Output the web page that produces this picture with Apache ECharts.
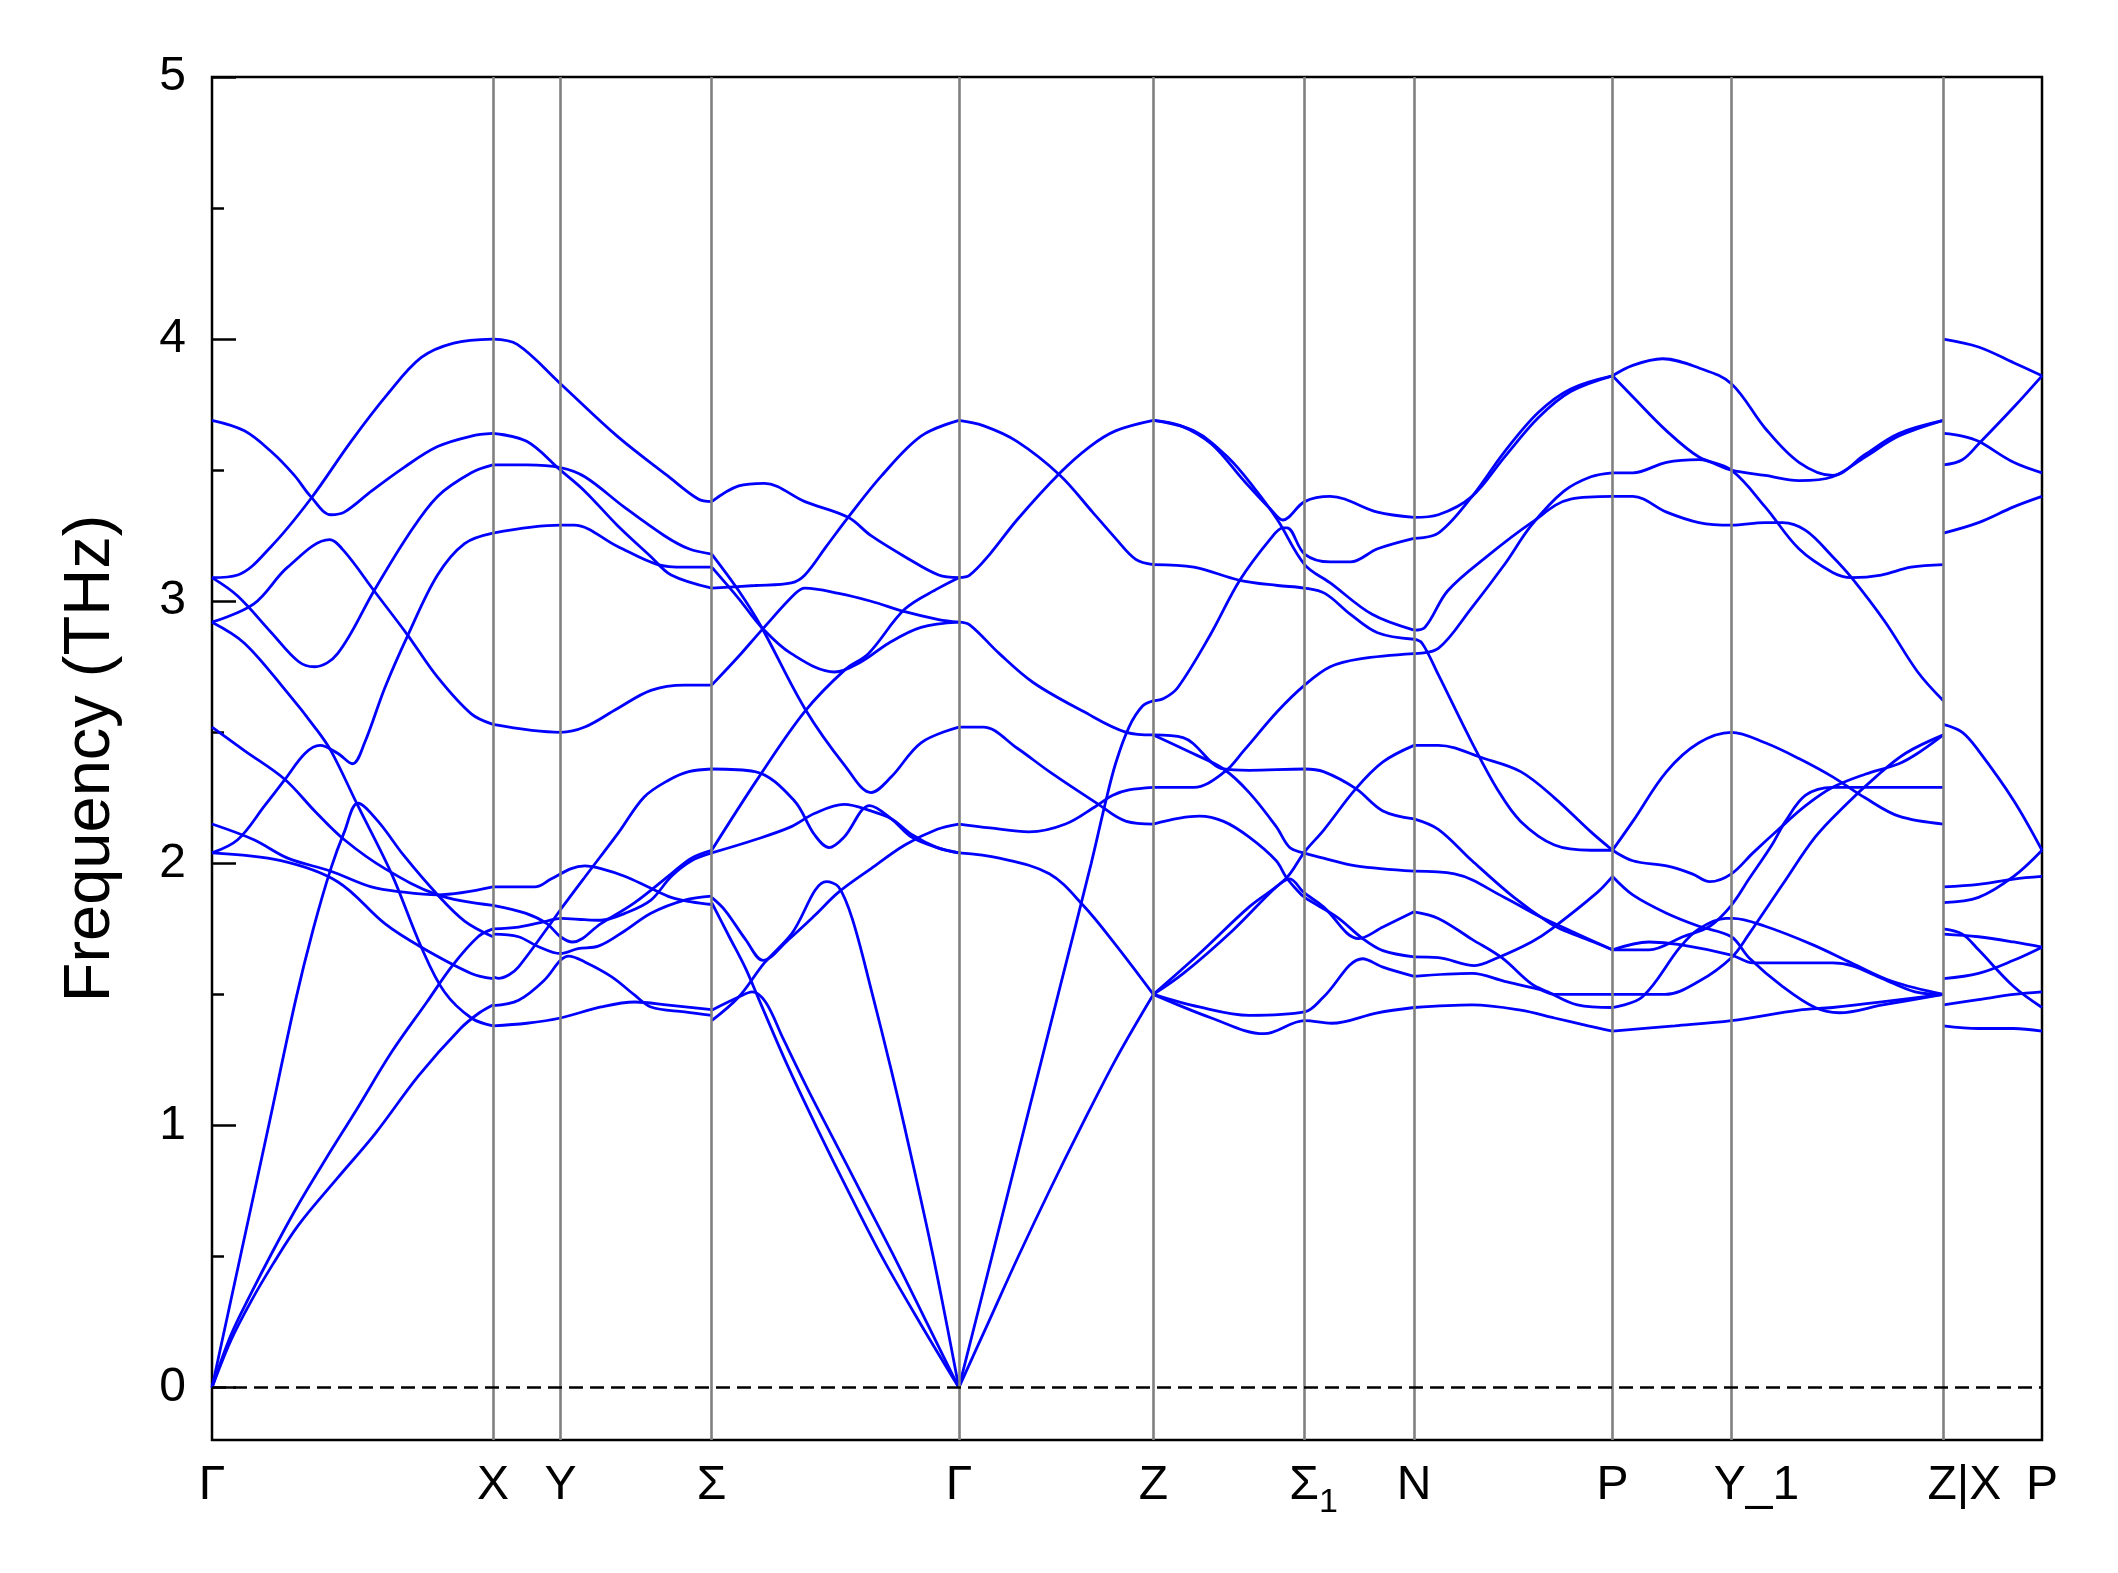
<!DOCTYPE html>
<html><head><meta charset="utf-8">
<script src="https://cdn.jsdelivr.net/npm/echarts@6/dist/echarts.min.js"></script>
<style>html,body{margin:0;padding:0;background:#fff}#c{width:2118px;height:1573px}</style>
</head><body><div id="c"></div>
<script>
// k-path distances of the high-symmetry points and their labels
const kTicks = [0, 208, 258, 370, 553, 697, 809, 890, 1037, 1125, 1282, 1355];
const kLabels = ['Γ', 'X', 'Y', 'Σ', 'Γ', 'Z', 'Σ₁', 'N', 'P', 'Y_1', 'Z|X', 'P'];
const yMajorTicks = [0, 1, 2, 3, 4, 5];
const yMinorTicks = [0.5, 1.5, 2.5, 3.5, 4.5];

// phonon branches, one list of [k, THz] points per branch, per path segment
const bandsGX = [
 [[0,3.69],[24,3.65],[44,3.57],[61,3.48],[73,3.40],[88,3.33],[98,3.34],[118,3.42],[142,3.51],[167,3.59],[192,3.63],[208,3.64]],
 [[0,3.09],[19,3.10],[44,3.21],[73,3.39],[103,3.61],[130,3.79],[155,3.93],[179,3.985],[208,4.0]],
 [[0,3.09],[19,3.02],[44,2.88],[64,2.77],[76,2.75],[93,2.80],[120,3.04],[145,3.25],[167,3.40],[192,3.49],[208,3.52]],
 [[0,2.92],[31,2.99],[56,3.13],[87,3.235],[98,3.19],[120,3.04],[145,2.87],[167,2.71],[192,2.57],[208,2.53]],
 [[0,2.92],[24,2.84],[56,2.65],[76,2.52],[88,2.43],[108,2.22],[133,1.96],[155,1.68],[172,1.51],[192,1.41],[208,1.38]],
 [[0,2.04],[19,2.09],[39,2.22],[54,2.32],[69,2.42],[80,2.45],[93,2.42],[104,2.38],[113,2.46],[128,2.67],[145,2.87],[167,3.10],[187,3.22],[208,3.26]],
 [[0,2.52],[24,2.43],[54,2.32],[76,2.20],[98,2.09],[128,1.98],[167,1.88],[208,1.84]],
 [[0,2.15],[31,2.09],[56,2.02],[88,1.97],[118,1.91],[142,1.89],[167,1.88],[208,1.91]],
 [[0,2.04],[51,2.01],[93,1.93],[128,1.77],[155,1.68],[192,1.58],[208,1.56]],
 [[0,0],[21,0.5],[42,1.0],[62,1.48],[75,1.75],[88,1.98],[98,2.12],[108,2.23],[123,2.16],[142,2.03],[167,1.88],[187,1.78],[208,1.72]],
 [[0,0],[14,0.2],[29,0.36],[45,0.52],[63,0.69],[84,0.87],[107,1.06],[133,1.28],[159,1.47],[178,1.61],[197,1.72],[208,1.75]],
 [[0,0],[14,0.18],[29,0.33],[45,0.47],[64,0.62],[93,0.8],[121,0.97],[153,1.19],[184,1.37],[198,1.43],[208,1.46]]
];
const bandsXS = [
 [[208,4.0],[226,3.98],[258,3.83],[300,3.63],[337,3.48],[360,3.39],[370,3.38]],
 [[208,3.64],[233,3.61],[258,3.50],[276,3.42],[300,3.29],[325,3.17],[340,3.10],[370,3.05]],
 [[208,3.52],[233,3.52],[258,3.51],[276,3.475],[305,3.36],[335,3.25],[353,3.20],[370,3.18]],
 [[208,3.26],[258,3.29],[268,3.29],[300,3.21],[330,3.14],[350,3.13],[370,3.13]],
 [[208,2.53],[258,2.50],[276,2.52],[300,2.59],[325,2.66],[350,2.68],[370,2.68]],
 [[208,1.91],[239,1.91],[251,1.94],[266,1.98],[276,1.99],[288,1.98],[306,1.95],[323,1.91],[340,1.87],[355,1.853],[370,1.843]],
 [[208,1.84],[232,1.81],[248,1.77],[258,1.72],[267,1.70],[288,1.77],[313,1.85],[340,1.96],[355,2.02],[370,2.05]],
 [[208,1.75],[227,1.757],[248,1.78],[258,1.79],[276,1.785],[288,1.783],[306,1.81],[325,1.86],[340,1.95],[355,2.01],[370,2.04]],
 [[208,1.73],[227,1.72],[241,1.684],[258,1.656],[271,1.675],[286,1.684],[306,1.744],[325,1.81],[350,1.86],[370,1.875]],
 [[208,1.567],[212,1.561],[220,1.575],[227,1.605],[249,1.758],[258,1.823],[276,1.947],[301,2.117],[320,2.253],[338,2.317],[353,2.35],[370,2.36]],
 [[208,1.457],[227,1.478],[246,1.554],[258,1.63],[264,1.646],[276,1.624],[296,1.567],[313,1.497],[325,1.452],[350,1.433],[370,1.42]],
 [[208,1.38],[233,1.39],[258,1.41],[288,1.452],[313,1.471],[338,1.459],[370,1.442]]
];
const bandsSG = [
 [[370,3.05],[402,3.06],[429,3.07],[439,3.10],[455,3.21],[471,3.32],[496,3.48],[525,3.63],[553,3.69]],
 [[370,3.38],[390,3.44],[409,3.45],[439,3.38],[471,3.32],[488,3.25],[513,3.17],[538,3.10],[553,3.09]],
 [[370,2.05],[405,2.33],[439,2.58],[469,2.74],[486,2.80],[513,2.97],[538,3.05],[553,3.09]],
 [[370,3.13],[390,3.01],[407,2.90],[429,2.80],[461,2.73],[481,2.77],[501,2.84],[525,2.90],[553,2.92]],
 [[370,2.68],[390,2.79],[407,2.89],[432,3.03],[439,3.05],[464,3.03],[488,3.00],[513,2.96],[538,2.93],[553,2.92]],
 [[370,3.18],[390,3.04],[407,2.90],[439,2.59],[469,2.37],[488,2.27],[503,2.33],[525,2.46],[553,2.52]],
 [[370,2.36],[402,2.35],[431,2.24],[446,2.11],[457,2.06],[468,2.10],[487,2.22],[503,2.17],[518,2.10],[537,2.06],[553,2.04]],
 [[370,2.04],[402,2.09],[429,2.14],[446,2.19],[468,2.225],[488,2.20],[503,2.17],[518,2.11],[537,2.06],[553,2.04]],
 [[370,1.87],[380,1.82],[395,1.71],[408,1.63],[427,1.71],[446,1.80],[464,1.89],[488,1.98],[513,2.07],[537,2.13],[553,2.15]],
 [[370,1.85],[383,1.72],[395,1.60],[405,1.48],[426,1.23],[448,0.99],[472,0.74],[497,0.49],[525,0.24],[553,0]],
 [[370,1.44],[390,1.49],[400,1.51],[410,1.47],[423,1.33],[441,1.14],[460,0.95],[483,0.72],[507,0.48],[530,0.24],[553,0]],
 [[370,1.40],[390,1.49],[409,1.62],[429,1.73],[455,1.93],[464,1.91],[474,1.79],[488,1.52],[503,1.21],[513,0.99],[534,0.50],[553,0]]
];
const bandsGZ = [
 [[553,3.69],[571,3.67],[596,3.61],[628,3.48],[652,3.34],[669,3.24],[684,3.16],[697,3.14]],
 [[553,3.09],[561,3.10],[576,3.18],[596,3.31],[628,3.49],[650,3.59],[669,3.65],[697,3.69]],
 [[553,2.92],[561,2.91],[583,2.80],[608,2.69],[645,2.58],[677,2.50],[697,2.49]],
 [[553,2.52],[571,2.52],[596,2.44],[620,2.35],[655,2.23],[677,2.16],[697,2.15]],
 [[553,2.15],[576,2.135],[605,2.12],[632,2.15],[655,2.22],[667,2.26],[679,2.28],[697,2.29]],
 [[553,0],[578,0.51],[602,1.0],[627,1.51],[651,2.0],[661,2.22],[669,2.38],[679,2.52],[689,2.6],[697,2.62]],
 [[553,0],[575,0.25],[597,0.5],[620,0.75],[644,1.0],[670,1.26],[697,1.5]],
 [[553,2.04],[583,2.02],[620,1.96],[645,1.84],[669,1.69],[697,1.50]]
];
const bandsZN = [
 [[697,3.69],[717,3.67],[740,3.60],[764,3.46],[784,3.35],[793,3.31],[809,3.38],[828,3.40],[863,3.34],[890,3.32]],
 [[697,3.69],[727,3.65],[752,3.55],[772,3.43],[789,3.31],[809,3.14],[828,3.07],[859,2.95],[890,2.89]],
 [[697,2.62],[705,2.63],[715,2.67],[739,2.87],[761,3.08],[784,3.24],[793,3.28],[796,3.28],[809,3.18],[828,3.15],[843,3.15],[863,3.20],[890,3.24]],
 [[697,3.14],[727,3.13],[761,3.08],[789,3.06],[809,3.05],[824,3.03],[843,2.95],[863,2.88],[890,2.855]],
 [[697,2.49],[719,2.48],[749,2.36],[768,2.355],[809,2.36],[823,2.35],[847,2.285],[867,2.20],[890,2.17]],
 [[697,2.49],[726,2.42],[749,2.36],[768,2.27],[788,2.14],[798,2.06],[808,2.04],[823,2.02],[847,1.99],[890,1.97]],
 [[697,2.29],[727,2.29],[750,2.35],[764,2.43],[789,2.58],[809,2.68],[828,2.75],[850,2.78],[890,2.80]],
 [[697,2.15],[731,2.18],[749,2.16],[768,2.10],[788,2.01],[795,1.95],[803,1.90],[809,1.87],[833,1.795],[852,1.713],[867,1.667],[890,1.643]],
 [[697,1.50],[731,1.655],[768,1.834],[795,1.941],[809,2.044],[823,2.126],[847,2.285],[867,2.387],[890,2.45]],
 [[697,1.50],[719,1.579],[756,1.745],[788,1.91],[798,1.941],[808,1.891],[823,1.834],[849,1.713],[867,1.757],[890,1.815]],
 [[697,1.50],[731,1.452],[768,1.42],[809,1.433],[823,1.49],[852,1.636],[867,1.604],[890,1.569]],
 [[697,1.50],[740,1.41],[779,1.35],[809,1.40],[829,1.39],[863,1.43],[890,1.45]]
];
const bandsNP = [
 [[890,3.32],[908,3.33],[933,3.40],[957,3.55],[982,3.70],[1006,3.80],[1037,3.86]],
 [[890,3.24],[908,3.26],[933,3.40],[957,3.57],[982,3.72],[1006,3.81],[1037,3.86]],
 [[890,2.89],[898,2.90],[915,3.04],[945,3.175],[977,3.30],[1006,3.39],[1037,3.40]],
 [[890,2.80],[908,2.82],[932,2.97],[957,3.14],[977,3.29],[1001,3.42],[1021,3.475],[1037,3.49]],
 [[890,2.855],[896,2.84],[908,2.72],[933,2.46],[952,2.28],[969,2.16],[994,2.07],[1021,2.05],[1037,2.05]],
 [[890,2.45],[908,2.45],[942,2.40],[969,2.35],[994,2.25],[1021,2.12],[1037,2.05]],
 [[890,2.17],[908,2.13],[933,2.01],[964,1.87],[991,1.77],[1003,1.74],[1023,1.70],[1037,1.67]],
 [[890,1.97],[920,1.96],[957,1.87],[982,1.80],[1007,1.74],[1037,1.67]],
 [[890,1.643],[908,1.64],[935,1.61],[952,1.64],[977,1.70],[992,1.75],[1026,1.89],[1037,1.95]],
 [[890,1.815],[908,1.79],[933,1.71],[955,1.64],[977,1.54],[989,1.51],[1011,1.46],[1037,1.45]],
 [[890,1.569],[933,1.58],[957,1.55],[982,1.52],[994,1.50],[1019,1.50],[1037,1.50]],
 [[890,1.45],[933,1.46],[969,1.44],[994,1.41],[1019,1.38],[1037,1.36]]
];
const bandsPZ = [
 [[1037,3.86],[1052,3.90],[1074,3.925],[1101,3.89],[1125,3.83],[1150,3.66],[1175,3.53],[1200,3.48],[1224,3.56],[1249,3.64],[1282,3.69]],
 [[1037,3.86],[1052,3.78],[1077,3.65],[1101,3.55],[1125,3.50],[1150,3.36],[1175,3.20],[1200,3.11],[1214,3.09],[1236,3.10],[1258,3.13],[1282,3.14]],
 [[1037,3.49],[1052,3.49],[1077,3.53],[1101,3.54],[1125,3.50],[1150,3.48],[1175,3.46],[1200,3.475],[1224,3.55],[1249,3.63],[1282,3.69]],
 [[1037,3.40],[1052,3.40],[1077,3.34],[1101,3.30],[1125,3.29],[1150,3.30],[1163,3.30],[1180,3.27],[1200,3.17],[1214,3.09],[1239,2.92],[1263,2.73],[1282,2.62]],
 [[1037,2.05],[1052,2.16],[1077,2.35],[1101,2.46],[1125,2.50],[1150,2.46],[1175,2.40],[1200,2.33],[1224,2.25],[1249,2.18],[1282,2.15]],
 [[1037,2.05],[1052,2.01],[1077,1.99],[1096,1.96],[1109,1.93],[1125,1.96],[1141,2.04],[1160,2.13],[1180,2.22],[1200,2.29],[1224,2.34],[1249,2.38],[1263,2.42],[1282,2.49]],
 [[1037,1.95],[1052,1.88],[1077,1.81],[1101,1.76],[1125,1.72],[1138,1.64],[1163,1.53],[1187,1.45],[1205,1.43],[1237,1.46],[1282,1.50]],
 [[1037,1.67],[1064,1.70],[1087,1.69],[1125,1.65],[1141,1.62],[1163,1.62],[1200,1.62],[1214,1.61],[1237,1.56],[1261,1.51],[1282,1.50]],
 [[1037,1.67],[1064,1.67],[1089,1.72],[1109,1.76],[1125,1.84],[1138,1.94],[1155,2.07],[1165,2.16],[1180,2.26],[1200,2.29],[1224,2.29],[1282,2.29]],
 [[1037,1.50],[1076,1.50],[1101,1.55],[1125,1.64],[1138,1.73],[1163,1.92],[1187,2.10],[1209,2.22],[1232,2.33],[1254,2.42],[1282,2.49]],
 [[1037,1.45],[1059,1.49],[1087,1.68],[1101,1.75],[1121,1.79],[1126,1.79],[1150,1.76],[1185,1.69],[1214,1.62],[1244,1.55],[1282,1.50]],
 [[1037,1.36],[1083,1.38],[1125,1.40],[1175,1.44],[1200,1.45],[1282,1.50]]
];
const bandsXP = [
 [[1282,4.0],[1308,3.97],[1334,3.91],[1355,3.86]],
 [[1282,3.52],[1296,3.54],[1308,3.60],[1334,3.74],[1355,3.86]],
 [[1282,3.64],[1296,3.63],[1308,3.61],[1334,3.53],[1355,3.49]],
 [[1282,3.26],[1308,3.30],[1334,3.36],[1355,3.40]],
 [[1282,2.53],[1296,2.50],[1308,2.43],[1334,2.24],[1355,2.05]],
 [[1282,1.91],[1308,1.92],[1334,1.94],[1355,1.95]],
 [[1282,1.85],[1308,1.87],[1334,1.95],[1355,2.05]],
 [[1282,1.75],[1296,1.73],[1308,1.67],[1334,1.53],[1355,1.45]],
 [[1282,1.73],[1308,1.72],[1334,1.70],[1355,1.68]],
 [[1282,1.56],[1308,1.58],[1334,1.63],[1355,1.68]],
 [[1282,1.46],[1308,1.48],[1334,1.50],[1355,1.51]],
 [[1282,1.38],[1308,1.37],[1334,1.37],[1355,1.36]]
];

const segments = [bandsGX, bandsXS, bandsSG, bandsGZ, bandsZN, bandsNP, bandsPZ, bandsXP];
const FONT = 'Liberation Sans, Arial, sans-serif';

const series = [];
// vertical lines at high-symmetry points + dashed zero line
series.push({
  type: 'line', data: [], silent: true, z: 1,
  markLine: {
    silent: true, symbol: ['none', 'none'], animation: false,
    label: { show: false },
    data: kTicks.slice(1, -1).map(v => ({ xAxis: v, lineStyle: { color: '#808080', width: 2.6, type: 'solid' } }))
      .concat([{ yAxis: 0, lineStyle: { color: '#000000', width: 2.5, type: [14, 7] } }])
  }
});
segments.forEach(seg => seg.forEach(curve => {
  series.push({
    type: 'line', data: curve, smooth: 0.35, showSymbol: false, symbol: 'none',
    silent: true, z: 3, lineStyle: { color: '#0000ff', width: 2.8 }
  });
}));

// label style keys (shifted labels sit slightly right of their tick, as in the source)
const labelStyleKey = { 'Y_1': 'mY', 'Z|X': 'mZ' };

const chart = echarts.init(document.getElementById('c'), null, { renderer: 'canvas' });
chart.setOption({
  animation: false,
  backgroundColor: '#ffffff',
  grid: { left: 212, right: 76, top: 77, bottom: 133, show: true, borderColor: '#000000', borderWidth: 2.5, backgroundColor: 'transparent' },
  xAxis: {
    type: 'value', min: 0, max: 1355,
    axisLine: { show: false }, axisTick: { show: false }, splitLine: { show: false },
    axisLabel: {
      customValues: kTicks, margin: 22, hideOverlap: false, showMinLabel: true, showMaxLabel: true,
      formatter: function (v) {
        let idx = 0, best = 1e9;
        kTicks.forEach((t, i) => { if (Math.abs(t - v) < best) { best = Math.abs(t - v); idx = i; } });
        const s = kLabels[idx];
        if (s.indexOf('₁') >= 0) return '{mS|' + s.replace('₁', '') + '}{s|1}';
        return '{' + (labelStyleKey[s] || 'm') + '|' + s + '}';
      },
      rich: {
        m: { fontSize: 48, lineHeight: 48, fontFamily: FONT, color: '#000', verticalAlign: 'top' },
        mY: { fontSize: 48, lineHeight: 48, fontFamily: FONT, color: '#000', verticalAlign: 'top', padding: [0, 0, 0, 50] },
        mZ: { fontSize: 48, lineHeight: 48, fontFamily: FONT, color: '#000', verticalAlign: 'top', padding: [0, 0, 0, 42] },
        mS: { fontSize: 48, lineHeight: 48, fontFamily: FONT, color: '#000', verticalAlign: 'top', padding: [0, 0, 0, 18] },
        s: { fontSize: 34, lineHeight: 34, fontFamily: FONT, color: '#000', verticalAlign: 'top', padding: [24, 0, 0, 0] }
      }
    }
  },
  yAxis: [{
    type: 'value', min: -0.2, max: 5, position: 'left',
    axisLine: { show: false }, splitLine: { show: false },
    axisTick: { show: true, customValues: yMajorTicks, inside: true, length: 24, lineStyle: { color: '#000', width: 2.5 } },
    axisLabel: { customValues: yMajorTicks, fontSize: 48, fontFamily: FONT, color: '#000', margin: 26 },
    name: 'Frequency (THz)', nameLocation: 'middle', nameGap: 88,
    nameTextStyle: { fontSize: 65, fontFamily: FONT, color: '#000' }
  }, {
    type: 'value', min: -0.2, max: 5, position: 'left',
    axisLine: { show: false }, splitLine: { show: false },
    axisTick: { show: true, customValues: yMinorTicks, inside: true, length: 12, lineStyle: { color: '#000', width: 2.5 } },
    axisLabel: { show: false }
  }],
  series: series
});
</script>
</body></html>
